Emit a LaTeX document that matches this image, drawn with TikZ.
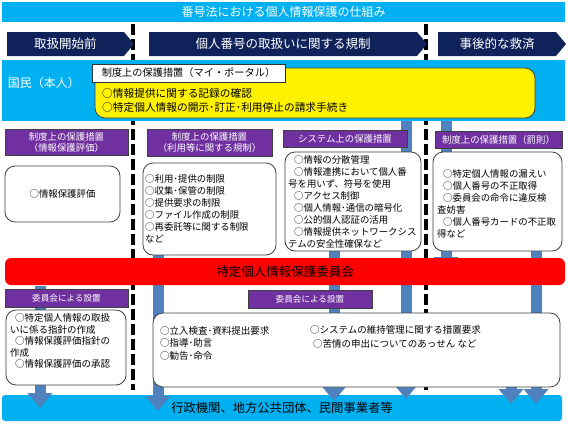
\documentclass[tikz,border=0pt]{standalone}
\usepackage{fontspec}
\setmainfont{Noto Sans CJK JP}
\usetikzlibrary{arrows.meta,positioning,shapes.symbols}
\definecolor{skyband}{HTML}{00B0F0}
\definecolor{navyhdr}{HTML}{10225A}
\definecolor{purplab}{HTML}{7030A0}
\definecolor{flowblue}{HTML}{4F81BD}
\definecolor{boxline}{HTML}{404040}
\newcommand{\fs}[2]{\fontsize{#1}{#2}\selectfont}
\newcommand{\ind}{\hspace*{6pt}}

\begin{document}
\begin{tikzpicture}[x=1pt,y=-1pt,>=Latex,
 bar/.style={fill=skyband,inner sep=0pt},
 hdr/.style={signal,signal to=east,signal pointer angle=100,fill=navyhdr,text=white,font=\fs{12.5}{14},minimum height=24pt,inner sep=0pt},
 tag/.style={fill=purplab,draw=black!75,line width=.7pt,text=white,font=\fs{9.4}{11},align=center,inner sep=0pt},
 card/.style={draw=boxline,fill=white,line width=.8pt,rounded corners=10pt,inner sep=0pt},
 txt/.style={font=\fs{9.4}{12},align=left,inner sep=0pt,anchor=west},
 flow/.style={flowblue,line width=11pt,-{Triangle[width=24pt,length=15pt]}},
 split/.style={line width=3.5pt,dash pattern=on 11pt off 4pt}]
\path[use as bounding box,fill=white] (0,0) rectangle (568,424);

% phase separators
\coordinate (d1t) at (133,24); \coordinate (d1b) at (133,390);
\coordinate (d2t) at (426,24); \coordinate (d2b) at (426,390);
\draw[split] (d1t) -- (d1b);
\draw[split] (d2t) -- (d2b);

\node[bar,minimum width=563pt,minimum height=20pt,text=white,font=\fs{12}{14}] (title) at (283.5,12) {番号法における個人情報保護の仕組み};
\node[hdr,minimum width=127pt] (h1) at (65.5,44) {取扱開始前};
\node[hdr,minimum width=278pt] (h2) at (283,44) {個人番号の取扱いに関する規制};
\node[hdr,minimum width=128pt] (h3) at (497,44) {事後的な救済};

\node[bar,rounded corners=3pt,minimum width=560pt,minimum height=26pt,font=\fs{12.3}{14}] (base) at (282,408) {行政機関、地方公共団体、民間事業者等};

% flows down to the base
\foreach \x/\ys/\ye [count=\i] in {40/286/408,158/165/411,334/165/401,406/121/399,446/121/272,511/330/404,536/165/404}{
  \coordinate (fa\i) at (\x,\ys); \coordinate (fb\i) at (\x,\ye);
  \draw[flow] (fa\i) -- (fb\i);}

\node[bar,minimum width=563pt,minimum height=61pt] (band) at (283.5,90.5) {};
\node[text=white,font=\fs{12}{14},inner sep=0pt] (kokumin) at (44,83) {国民（本人）};
\node[card,fill=yellow,minimum width=440pt,minimum height=50pt] (portal) at (315,93) {};
\node[txt,font=\fs{10.7}{14}] (portalt) at (102,100) {○情報提供に関する記録の確認\\○特定個人情報の開示･訂正･利用停止の請求手続き};
\node[draw=black!80,fill=white,line width=.8pt,minimum width=193pt,minimum height=18pt,inner sep=0pt,font=\fs{10.2}{12}] (portaltag) at (188.5,73) {制度上の保護措置（マイ・ポータル）};

% upper measures
\node[tag,minimum width=123pt,minimum height=26pt] (p1) at (66.5,142) {制度上の保護措置\\（情報保護評価）};
\node[tag,minimum width=125pt,minimum height=27pt] (p2) at (209.5,142.5) {制度上の保護措置\\（利用等に関する規制）};
\node[tag,minimum width=124pt,minimum height=17pt] (p3) at (345,139) {システム上の保護措置};
\node[tag,minimum width=127pt,minimum height=17pt] (p4) at (498.5,139.5) {制度上の保護措置（罰則）};

\node[card,minimum width=115pt,minimum height=56pt,font=\fs{9.4}{12}] (b1) at (62.5,194) {○情報保護評価};
\node[card,minimum width=133pt,minimum height=92pt] (b2) at (209.5,209) {};
\node[txt] (b2t) at (145,209) {○利用･提供の制限\\○収集･保管の制限\\○提供要求の制限\\○ファイル作成の制限\\○再委託等に関する制限\\など};
\node[card,minimum width=136pt,minimum height=99pt] (b3) at (353,201.5) {};
\node[txt] (b3t) at (288,201.5) {\ind○情報の分散管理\\\ind○情報連携において個人番\\号を用いず、符号を使用\\\ind○アクセス制御\\\ind○個人情報･通信の暗号化\\\ind○公的個人認証の活用\\\ind○情報提供ネットワークシス\\テムの安全性確保など};
\node[card,minimum width=129pt,minimum height=99pt] (b4) at (497.5,201.5) {};
\node[txt] (b4t) at (437,204) {\ind○特定個人情報の漏えい\\\ind○個人番号の不正取得\\\ind○委員会の命令に違反検\\査妨害\\\ind○個人番号カードの不正取\\得など};

% committee
\node[fill=red,rounded corners=6pt,minimum width=560pt,minimum height=27pt,inner sep=0pt,font=\fs{12.5}{14}] (cmte) at (285,271.5) {特定個人情報保護委員会};

% lower measures
\node[tag,minimum width=123pt,minimum height=18pt,font=\fs{8.6}{10}] (p5) at (66.5,298) {委員会による設置};
\node[tag,minimum width=124pt,minimum height=18pt,font=\fs{8.6}{10}] (p6) at (310,299) {委員会による設置};
\node[card,minimum width=120pt,minimum height=75pt] (l1) at (66,347.5) {};
\node[txt,font=\fs{9.5}{11.5}] (l1t) at (10,341) {\hspace*{5pt}○特定個人情報の取扱\\いに係る指針の作成\\\hspace*{5pt}○情報保護評価指針の\\作成\\\hspace*{5pt}○情報保護評価の承認};
\node[card,minimum width=407pt,minimum height=74pt] (l2) at (356.5,350) {};
\node[txt,font=\fs{9.5}{12.5}] (l2a) at (160,343) {○立入検査･資料提出要求\\○指導･助言\\○勧告･命令};
\node[txt,font=\fs{9.5}{13.5}] (l2b) at (310,337) {○システムの維持管理に関する措置要求\\\hspace*{3pt}○苦情の申出についてのあっせん など};
\end{tikzpicture}
\end{document}
